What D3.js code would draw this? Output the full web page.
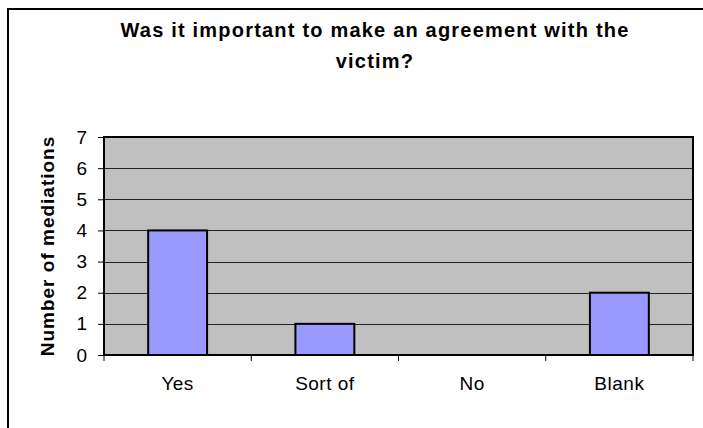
<!DOCTYPE html>
<html>
<head>
<meta charset="utf-8">
<script src="https://cdn.jsdelivr.net/npm/d3@7/dist/d3.min.js"></script>
<style>
  html, body { margin: 0; padding: 0; background: #fff; }
  svg { display: block; }
  text { font-family: "Liberation Sans", Arial, sans-serif; fill: #000; }
</style>
</head>
<body>
<svg id="chart" width="703" height="428"></svg>
<script>
// Survey answers and counts
const categories = ["Yes", "Sort of", "No", "Blank"];
const counts = [4, 1, 0, 2];
const yTicks = [0, 1, 2, 3, 4, 5, 6, 7];
const titleLines = ["Was it important to make an agreement with the", "victim?"];
const yLabel = "Number of mediations";

const svg = d3.select("#chart");
const plot = { left: 104, top: 137, right: 693, bottom: 355 };

// Outer chart frame (top and left edges visible)
svg.append("path")
  .attr("d", "M8,428 L8,9 L703,9")
  .attr("fill", "none")
  .attr("stroke", "#000")
  .attr("stroke-width", 2);

// Title
const title = svg.append("text")
  .attr("text-anchor", "middle")
  .attr("font-weight", "bold")
  .attr("font-size", 20)
  .attr("letter-spacing", 1.2);
titleLines.forEach((line, i) => {
  title.append("tspan")
    .attr("x", 375)
    .attr("y", 37 + i * 31)
    .text(line);
});

const x = d3.scaleBand()
  .domain(categories)
  .range([plot.left, plot.right])
  .paddingInner(0.6)
  .paddingOuter(0.3);

const y = d3.scaleLinear()
  .domain([0, 7])
  .range([plot.bottom, plot.top]);

// Plot background
svg.append("rect")
  .attr("x", plot.left)
  .attr("y", plot.top)
  .attr("width", plot.right - plot.left)
  .attr("height", plot.bottom - plot.top)
  .attr("fill", "#C0C0C0");

// Horizontal gridlines
svg.append("g")
  .selectAll("line")
  .data(yTicks.slice(1, -1))
  .join("line")
  .attr("x1", plot.left)
  .attr("x2", plot.right)
  .attr("y1", d => Math.round(y(d)) + 0.5)
  .attr("y2", d => Math.round(y(d)) + 0.5)
  .attr("stroke", "#222")
  .attr("stroke-width", 1);

// Bars
svg.append("g")
  .selectAll("rect")
  .data(categories.map((c, i) => ({ c, v: counts[i] })).filter(d => d.v > 0))
  .join("rect")
  .attr("x", d => x(d.c))
  .attr("y", d => y(d.v))
  .attr("width", x.bandwidth())
  .attr("height", d => y(0) - y(d.v))
  .attr("fill", "#9999FF")
  .attr("stroke", "#000")
  .attr("stroke-width", 2);

// Plot frame
svg.append("rect")
  .attr("x", plot.left)
  .attr("y", plot.top)
  .attr("width", plot.right - plot.left)
  .attr("height", plot.bottom - plot.top)
  .attr("fill", "none")
  .attr("stroke", "#000")
  .attr("stroke-width", 2);

// Y axis
const yAxis = svg.append("g")
  .attr("transform", `translate(${plot.left},0)`)
  .call(d3.axisLeft(y).tickValues(yTicks).tickSize(6).tickPadding(11).tickFormat(d3.format("d")));
yAxis.select(".domain").remove();
yAxis.selectAll(".tick line").attr("stroke", "#000").attr("stroke-width", 1);
yAxis.selectAll(".tick text")
  .attr("font-size", 19)
  .attr("font-family", "'Liberation Sans', Arial, sans-serif")
  .attr("fill", "#000");

// X axis: ticks sit on category boundaries
const boundaries = d3.range(categories.length + 1).map(i => plot.left + i * (plot.right - plot.left) / categories.length);
svg.append("g")
  .selectAll("line")
  .data(boundaries)
  .join("line")
  .attr("x1", d => d)
  .attr("x2", d => d)
  .attr("y1", plot.bottom)
  .attr("y2", plot.bottom + 6)
  .attr("stroke", "#000")
  .attr("stroke-width", 1);

svg.append("g")
  .selectAll("text")
  .data(categories)
  .join("text")
  .attr("x", d => x(d) + x.bandwidth() / 2)
  .attr("y", 390)
  .attr("text-anchor", "middle")
  .attr("font-size", 19)
  .attr("letter-spacing", 0.5)
  .text(d => d);

// Y axis title
svg.append("text")
  .attr("transform", `translate(54,${(plot.top + plot.bottom) / 2}) rotate(-90)`)
  .attr("text-anchor", "middle")
  .attr("font-weight", "bold")
  .attr("font-size", 19)
  .attr("letter-spacing", 1)
  .text(yLabel);
</script>
</body>
</html>
